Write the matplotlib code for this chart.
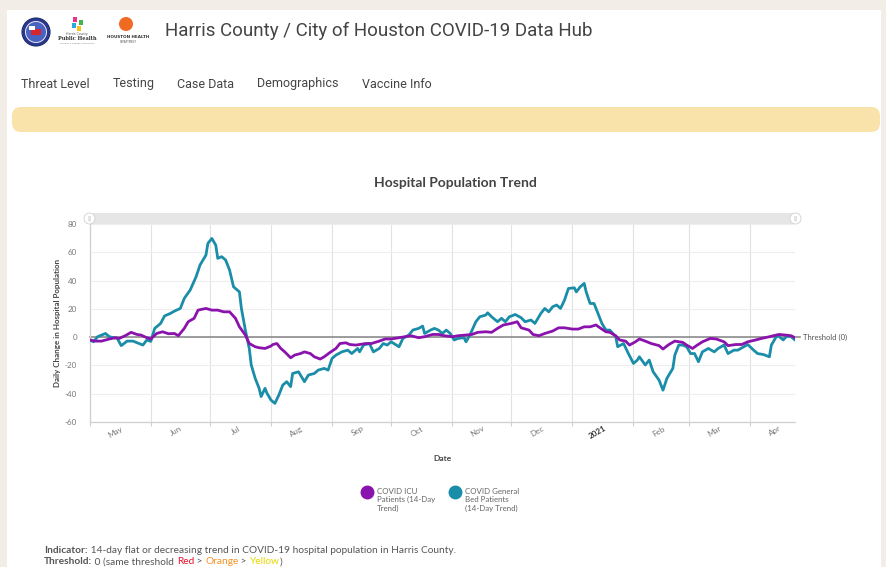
import numpy as np
import matplotlib.pyplot as plt
from matplotlib.patches import Circle, FancyBboxPatch, Rectangle
from matplotlib.lines import Line2D

# data (day offset from 2020-05-01, 14-day change)
start = np.datetime64('2020-05-01')

gen_day = [0, 2, 4, 8, 10, 14, 16, 19, 22, 25,
           27, 29, 31, 33, 36, 38, 41, 43, 46, 48,
           51, 54, 56, 59, 60, 62, 64, 65, 67, 69,
           71, 73, 76, 77, 79, 81, 82, 84, 86, 87,
           89, 90, 92, 94, 96, 98, 100, 102, 103, 106,
           109, 111, 114, 116, 119, 121, 123, 125, 128, 131,
           133, 136, 137, 139, 142, 144, 147, 149, 151, 153,
           157, 159, 162, 164, 167, 169, 170, 173, 175, 177,
           179, 181, 183, 185, 187, 190, 191, 193, 196, 198,
           201, 202, 204, 207, 209, 211, 213, 216, 219, 221,
           224, 226, 229, 231, 233, 235, 237, 239, 241, 243,
           246, 247, 249, 251, 252, 254, 256, 257, 260, 262,
           264, 267, 268, 271, 273, 276, 278, 279, 282, 284,
           286, 289, 291, 293, 296, 297, 299, 301, 303, 305,
           307, 309, 311, 314, 317, 319, 322, 324, 327, 329,
           332, 334, 337, 339, 342, 345, 346, 349, 350, 352,
           354, 356, 358]
gen_val = [-2, -3.3, 0.3, 2.6, 0.3, -0.9, -6, -2.8, -2.8, -4.5,
           -5.6, -2, -3, 6.2, 9.7, 15, 16.8, 18.4, 20.3, 27.4,
           33.3, 42.7, 51, 58, 66.3, 69.8, 65, 55.7, 56.9, 54.5,
           47.4, 35.6, 32, 20.3, 5, -8, -19.7, -29.1, -36.2, -42,
           -36.2, -39.7, -44.5, -46.8, -41, -33.9, -31.5, -35, -25.7, -24.5,
           -31.5, -26.8, -25.7, -23.3, -22.1, -23.3, -15.1, -12.7, -10.4, -9.2,
           -11.6, -8, -10.4, -5.6, -4.5, -10.4, -8, -4.5, -5.6, -3.3,
           -6.8, -0.9, 1.5, 5, 6.2, 7.8, 2.6, 5, 6.2, 5,
           2.6, 5, 2.6, -2, -0.9, -0.4, -3.3, 1.5, 10.9, 14.4,
           15.6, 17.2, 14.4, 10.9, 13.3, 10.9, 14.4, 16, 13.7, 10.9,
           12.1, 9.7, 16.8, 20.3, 17.9, 21.5, 22.7, 20.3, 26.2, 34.4,
           34.9, 32, 35.6, 38, 32, 23.8, 23.8, 20.3, 9.7, 5,
           5, 0.3, -6.8, -4.5, -10.4, -18.6, -16.2, -13.9, -19.7, -16.2,
           -24.5, -30.4, -37.5, -29.1, -22.1, -12.7, -5.6, -5.6, -6.8, -11.6,
           -11.6, -17.4, -10.4, -8, -10.4, -8, -5.6, -11.6, -9.2, -9.2,
           -6.8, -5.2, -9.2, -11.6, -12.3, -13.9, -5.6, 1.5, 0.3, -2,
           1, 0.3, -2]

icu_day = [0, 3, 6, 10, 13, 15, 18, 21, 24, 26,
           29, 31, 34, 37, 40, 43, 45, 48, 50, 53,
           55, 59, 62, 65, 68, 71, 74, 76, 79, 81,
           84, 86, 89, 92, 93, 95, 97, 99, 102, 104,
           107, 109, 112, 114, 117, 119, 122, 125, 127, 130,
           132, 135, 137, 140, 143, 147, 150, 153, 157, 160,
           163, 167, 170, 174, 177, 180, 184, 187, 191, 194,
           197, 201, 204, 207, 210, 214, 217, 219, 223, 225,
           228, 231, 235, 238, 241, 245, 248, 251, 254, 257,
           259, 262, 264, 267, 269, 272, 274, 277, 279, 282,
           285, 289, 291, 294, 297, 301, 303, 306, 308, 311,
           315, 318, 322, 324, 328, 331, 334, 338, 341, 345,
           347, 350, 353, 356, 358]
icu_val = [-2, -2.8, -2.8, -1.3, -0.4, -0.9, 1, 3.4, 1.9, 1.5,
           -0.4, -1.3, 2.6, 3.8, 2.4, 2.6, 1, 6.2, 10.9, 13.3,
           19.1, 20.3, 19.1, 19.1, 17.9, 17.9, 13.3, 7.3, 1.5, -4.5,
           -6.8, -7.5, -8, -6.3, -5.2, -4.5, -8, -10.4, -14.6, -12.7,
           -11.6, -10.4, -11.6, -13.9, -15.5, -13.9, -10.8, -8, -4.5, -4,
           -5.2, -5.6, -5.2, -4.5, -4.5, -2.8, -1.3, -1.3, -0.4, 0.3,
           1, -0.4, 0.3, 1.9, 1.9, 1, 0.3, 1, 1.5, 1.9,
           3.4, 3.8, 3.4, 6.2, 8.6, 9.7, 10.9, 6.6, 5, 1.9,
           1, 2.6, 4.3, 6.6, 6.6, 5.7, 5.7, 7.3, 7.3, 8.6,
           6.6, 3.8, 3.4, 1, -2, -2.8, -5.6, -3.3, -1.3, -2.8,
           -4.5, -6, -8.4, -5.2, -2.8, -3.7, -5.6, -8, -6, -3.3,
           -0.9, -1.3, -3.3, -6, -5.2, -5.2, -3.3, -2, -0.9, 0.3,
           1, 1.9, 1.5, 1, -0.4]

month_labels = ['May', 'Jun', 'Jul', 'Aug', 'Sep', 'Oct', 'Nov', 'Dec',
                '2021', 'Feb', 'Mar', 'Apr']
y_ticks = [-60, -40, -20, 0, 20, 40, 60, 80]
threshold = 0
nav_items = ['Threat Level', 'Testing', 'Case Data', 'Demographics', 'Vaccine Info']
series_names = ['COVID ICU\nPatients (14-Day\nTrend)',
                'COVID General\nBed Patients\n(14-Day Trend)']

PURPLE = '#8a12ad'
TEAL = '#1a8da8'
W, H = 886, 567

fig = plt.figure(figsize=(W / 100, H / 100), dpi=100, facecolor='#f2eee7')

# page background drawn in pixel coordinates
bg = fig.add_axes([0, 0, 1, 1])
bg.set_xlim(0, W)
bg.set_ylim(H, 0)
bg.axis('off')
bg.add_patch(Rectangle((7, 10), 874, 560, fc='white', ec='none'))

# logos (rough)
bg.add_patch(Circle((36, 32), 14, fc='#2b3a8f', ec='#1d2a6e', lw=0.8))
bg.add_patch(Circle((36, 32), 10.5, fc='#4b63c0', ec='white', lw=0.6))
bg.add_patch(Rectangle((31, 29), 10, 6, fc='#d7262e', ec='none'))
bg.add_patch(Rectangle((29, 26), 6, 4, fc='white', ec='none'))
for (sx, sy, c) in [(73, 17, '#e8348b'), (79, 20, '#43b649'), (72, 23, '#27a9e1'), (77, 26, '#f7c31a')]:
    bg.add_patch(Rectangle((sx, sy), 4.5, 4.5, fc=c, ec='none'))
bg.text(77, 34.5, 'Harris County', fontsize=2.3, ha='center', va='center', color='#555')
bg.text(77, 39, 'Public Health', fontsize=3.6, ha='center', va='center', color='#333',
        family='DejaVu Serif', weight='bold')
bg.text(77, 43, 'Building a Healthy Community', fontsize=1.6, ha='center', va='center', color='#777')
bg.add_patch(Circle((126, 24), 7, fc='#f26a21', ec='none'))
bg.text(128, 37.5, 'HOUSTON HEALTH', fontsize=3, ha='center', va='center', color='#333', weight='bold')
bg.text(128, 42, 'DEPARTMENT', fontsize=1.8, ha='center', va='center', color='#555')

bg.text(165, 31, 'Harris County / City of Houston COVID-19 Data Hub', fontsize=13.5,
        family='Roboto', color='#444', va='center')
for name, nx in zip(nav_items, [21, 113, 177, 257, 362]):
    bg.text(nx, 84, name, fontsize=9, family='Roboto', color='#444', va='center')

bg.add_patch(FancyBboxPatch((12, 107), 868, 25, boxstyle='round,pad=0,rounding_size=9',
                            fc='#f9e3aa', ec='none'))

bg.text(455, 183, 'Hospital Population Trend', fontsize=10, family='Lato', weight='bold',
        color='#444', ha='center', va='center')

# scrollbar above the plot
bg.add_patch(FancyBboxPatch((89, 213), 707, 11, boxstyle='round,pad=0,rounding_size=4',
                            fc='#e6e6e6', ec='none'))
for gx in [89.5, 795.5]:
    bg.add_patch(Circle((gx, 218.5), 5.5, fc='white', ec='#d0d0d0', lw=0.6))
    bg.text(gx, 218.5, '||', fontsize=4, ha='center', va='center', color='#999')

# chart
ax = fig.add_axes([89.7 / W, 1 - 422 / H, (795 - 89.7) / W, 198 / H])
ax.set_facecolor('white')
gen_dates = start + np.array(gen_day).astype('timedelta64[D]')
icu_dates = start + np.array(icu_day).astype('timedelta64[D]')
ax.plot(gen_dates, gen_val, color=TEAL, lw=2.0, zorder=3, solid_joinstyle='round')
ax.plot(icu_dates, icu_val, color=PURPLE, lw=2.0, zorder=4, solid_joinstyle='round')

ax.axhline(threshold, xmax=1.007, color='#8c8c8c', lw=1.2, zorder=2, clip_on=False)
ax.text(1.011, threshold, 'Threshold (0)', transform=ax.get_yaxis_transform(),
        fontsize=5.5, family='Lato', color='#555', va='center')

ax.set_ylim(-60, 80)
ax.set_xlim(start, start + np.timedelta64(358, 'D'))
ax.set_yticks(y_ticks)
ax.set_yticklabels([str(v) for v in y_ticks], fontsize=5.8, family='Lato', color='#777')

month_starts = np.arange('2020-05', '2021-05', dtype='datetime64[M]').astype('datetime64[D]')
ax.set_xticks(month_starts)
ax.set_xticklabels([])
ax.set_xticks(month_starts + np.timedelta64(13, 'D'), minor=True)
ax.set_xticklabels(month_labels, minor=True, rotation=30, ha='center', fontsize=5.8,
                   family='Lato', color='#777')
for lbl in ax.get_xticklabels(minor=True):
    if lbl.get_text() == '2021':
        lbl.set_fontweight('bold')
        lbl.set_color('#333')

ax.tick_params(axis='x', which='major', length=3, color='#d0d0d0', width=0.8)
ax.tick_params(axis='x', which='minor', length=0, pad=2)
ax.tick_params(axis='y', length=0, pad=9)
ax.grid(axis='x', which='major', color='#e2e2e2', lw=0.8)
ax.grid(axis='y', color='#eeeeee', lw=0.8)
ax.set_axisbelow(True)
for side in ['top', 'right']:
    ax.spines[side].set_visible(False)
for side in ['left', 'bottom']:
    ax.spines[side].set_color('#cfcfcf')
    ax.spines[side].set_linewidth(0.9)

ax.set_xlabel('Date', fontsize=6, family='Lato', weight='bold', color='#444')
ax.xaxis.set_label_coords(0.5, -0.165)
ax.set_ylabel('Daily Change in Hospital Population', fontsize=5.8, family='Lato',
              weight='bold', color='#444')
ax.yaxis.set_label_coords(-0.041, 0.5)

# legend
for (lx, col, name) in [(367, PURPLE, series_names[0]), (455, TEAL, series_names[1])]:
    bg.add_line(Line2D([lx], [492], marker='o', ms=9, color=col, mec=col))
    bg.text(lx + 10, 487.5, name, fontsize=5.7, family='Lato', color='#666', va='top',
            linespacing=1.3)

# indicator notes
t1 = bg.text(44, 555, 'Indicator:', fontsize=7.3, family='Lato', weight='bold', color='#555',
             va='bottom')
bg.annotate(' 14-day flat or decreasing trend in COVID-19 hospital population in Harris County.',
            xy=(1, 0), xycoords=t1, fontsize=7.3, family='Lato', color='#555', va='bottom')
prev = bg.text(44, 566.5, 'Threshold:', fontsize=7.3, family='Lato', weight='bold', color='#555',
               va='bottom')
for part, col in [(' 0 (same threshold ', '#555'), ('Red', '#e8102c'), (' > ', '#555'),
                  ('Orange', '#f6921e'), (' > ', '#555'), ('Yellow', '#e8d800'), (')', '#555')]:
    prev = bg.annotate(part, xy=(1, 0), xycoords=prev, fontsize=7.3, family='Lato',
                       color=col, va='bottom')

fig.savefig('out.png', dpi=100, facecolor=fig.get_facecolor())
